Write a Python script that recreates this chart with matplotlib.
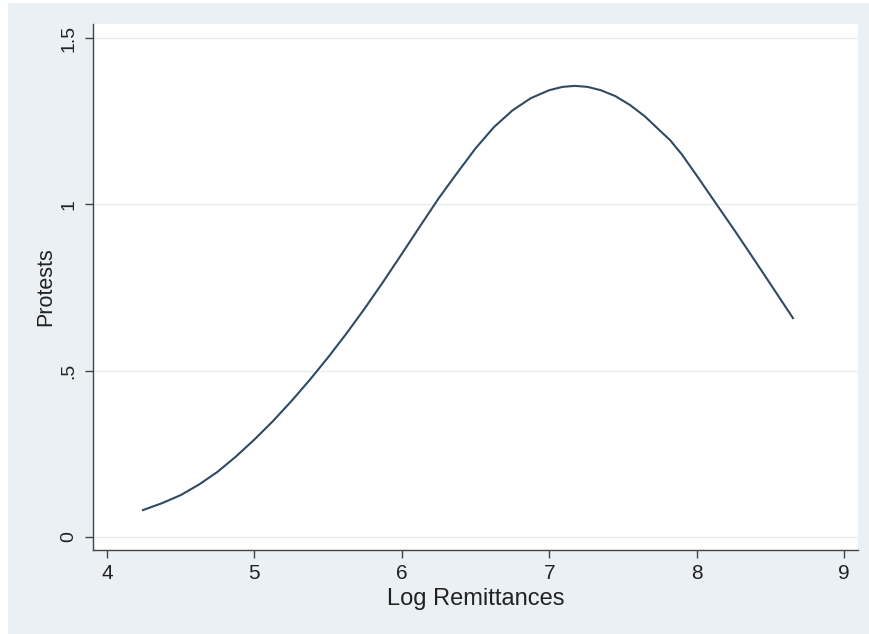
import matplotlib.pyplot as plt
from matplotlib.patches import Rectangle

# points
log_remit = [4.244, 4.375, 4.5, 4.625, 4.75, 4.875, 5.0, 5.125, 5.25, 5.375,
             5.5, 5.625, 5.75, 5.875, 6.0, 6.125, 6.25, 6.375, 6.5, 6.625,
             6.75, 6.875, 7.0, 7.09, 7.175, 7.26, 7.35, 7.45, 7.55, 7.65,
             7.75, 7.82, 7.9, 8.0, 8.14, 8.26, 8.38, 8.5, 8.654]
protests = [0.081, 0.102, 0.126, 0.158, 0.196, 0.242, 0.293, 0.348, 0.408, 0.472,
            0.540, 0.612, 0.688, 0.768, 0.851, 0.935, 1.018, 1.094, 1.168, 1.232,
            1.282, 1.319, 1.343, 1.353, 1.356, 1.353, 1.343, 1.325, 1.298, 1.264,
            1.222, 1.193, 1.150, 1.087, 0.997, 0.920, 0.841, 0.761, 0.658]

xticks = [4, 5, 6, 7, 8, 9]
yticks = [0, 0.5, 1, 1.5]
ytick_labels = ["0", ".5", "1", "1.5"]

bg = "#eaf0f3"
plt.rcParams['font.family'] = ['Liberation Sans', 'DejaVu Sans']

fig = plt.figure(figsize=(8.69, 6.34), dpi=100, facecolor=bg)
# thin white strip along the left and top edge of the image
fig.patches.append(Rectangle((0, 0), 7 / 869, 1, transform=fig.transFigure,
                             color="white", zorder=-5))
fig.patches.append(Rectangle((0, 1 - 2 / 634), 1, 2 / 634, transform=fig.transFigure,
                             color="white", zorder=-5))

ax = fig.add_axes([93 / 869, 84 / 634, 765 / 869, 526 / 634])
ax.set_facecolor("white")

ax.plot(log_remit, protests, color="#2f4a63", lw=1.5, zorder=3,
        solid_joinstyle="round")

ax.set_xlim(3.905, 9.095)
ax.set_ylim(-0.039, 1.542)
ax.set_xticks(xticks)
ax.set_yticks(yticks)
ax.set_yticklabels(ytick_labels, rotation=90, va="center")

ax.grid(axis="y", color="#e9ecee", lw=1.0, zorder=0)
ax.set_axisbelow(True)

for side in ["top", "right"]:
    ax.spines[side].set_visible(False)
for side in ["left", "bottom"]:
    ax.spines[side].set_color("#444444")
    ax.spines[side].set_linewidth(1.0)

ax.tick_params(axis="both", length=6, width=1.0,
               color="#444444", labelcolor="#222222")
ax.tick_params(axis="x", labelsize=15, pad=4)
ax.tick_params(axis="y", labelsize=14, pad=5)

ax.set_xlabel("Log Remittances", fontsize=17, color="#222222", labelpad=4)
ax.set_ylabel("Protests", fontsize=15.5, color="#222222", labelpad=3)

fig.savefig("out.png", dpi=100, facecolor=bg)
